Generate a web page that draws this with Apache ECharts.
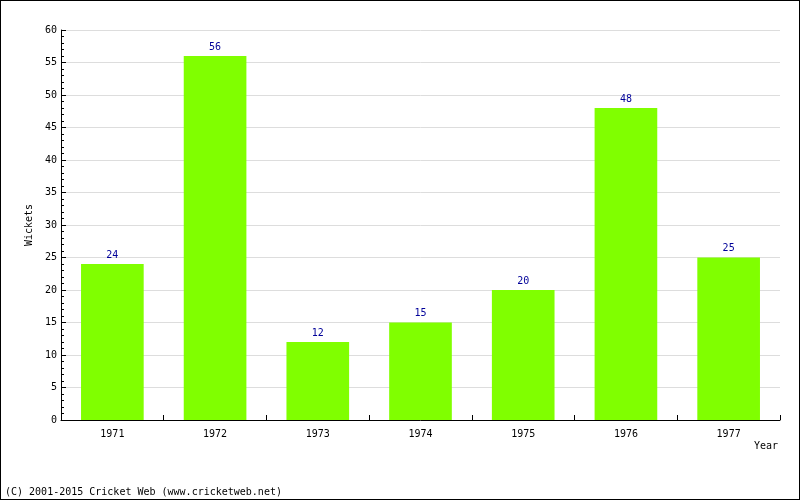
<!DOCTYPE html>
<html><head><meta charset="utf-8">
<script src="https://cdn.jsdelivr.net/npm/echarts@6/dist/echarts.min.js"></script>
<style>html,body{margin:0;padding:0;background:#fff}#c{width:800px;height:500px;box-sizing:border-box;border:1px solid #000}</style>
</head><body><div id="c"></div>
<script>
const years = ['1971','1972','1973','1974','1975','1976','1977'];
const wickets = [24, 56, 12, 15, 20, 48, 25];
const font = 'DejaVu Sans Mono';
const chart = echarts.init(document.getElementById('c'), null, {renderer:'canvas'});
chart.setOption({
  animation: false,
  backgroundColor: '#fff',
  grid: {left: 60, right: 19, top: 29, bottom: 79, containLabel: false},
  xAxis: {
    type: 'category', data: years,
    name: 'Year', nameLocation: 'end',
    nameGap: 0,
    nameTextStyle: {fontFamily: font, fontSize: 10, color: '#000', padding: [21, 0, 0, -26], verticalAlign: 'top'},
    axisLine: {lineStyle: {color: '#000', width: 1}},
    axisTick: {show: true, inside: true, length: 5, lineStyle: {color: '#000'}},
    axisLabel: {fontFamily: font, fontSize: 10, color: '#000', margin: 9},
    splitLine: {show: false}
  },
  yAxis: {
    type: 'value', min: 0, max: 60, interval: 5,
    name: 'Wickets', nameLocation: 'middle', nameGap: 26, nameRotate: 90,
    nameTextStyle: {fontFamily: font, fontSize: 10, color: '#000'},
    axisLine: {show: true, lineStyle: {color: '#000', width: 1}},
    axisTick: {show: true, inside: true, length: 5, lineStyle: {color: '#000'}},
    minorTick: {show: true, splitNumber: 5, length: 3, lineStyle: {color: '#000'}},
    axisLabel: {fontFamily: font, fontSize: 10, color: '#000', margin: 4},
    splitLine: {show: true, lineStyle: {color: '#dddddd', width: 1}}
  },
  series: [{
    type: 'bar', data: wickets, barWidth: '61%',
    itemStyle: {color: '#80ff00'},
    label: {show: true, position: 'top', distance: 4, fontFamily: font, fontSize: 10, color: '#000099'}
  }],
  graphic: [{
    type: 'text', left: 4, top: 486,
    style: {text: '(C) 2001-2015 Cricket Web (www.cricketweb.net)', font: '10px "DejaVu Sans Mono"', fill: '#000'}
  }]
});
</script></body></html>
